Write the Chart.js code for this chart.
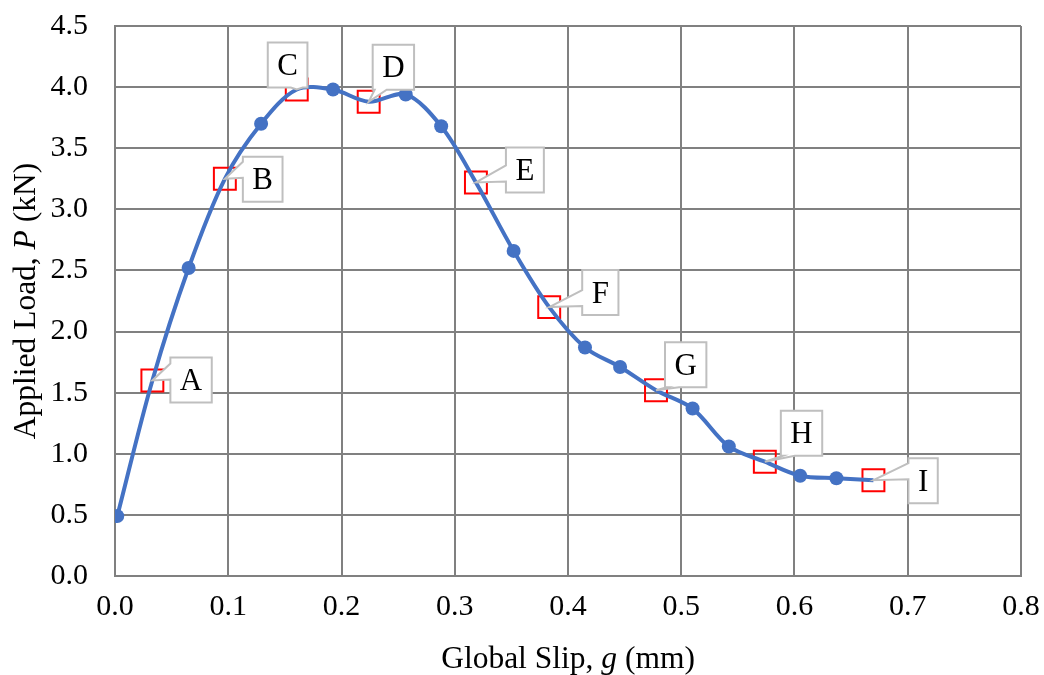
<!DOCTYPE html>
<html>
<head>
<meta charset="utf-8">
<script src="https://cdn.jsdelivr.net/npm/chart.js@4.4.1/dist/chart.umd.min.js"></script>
<style>
  body { margin: 0; background: #fff; }
  #wrap { width: 1044px; height: 675px; }
</style>
</head>
<body>
<div id="wrap"><canvas id="slipChart" width="1044" height="675"></canvas></div>
<script>
'use strict';

// load-slip curve (mm, kN)
const slip = [0.002, 0.033, 0.065, 0.097, 0.129, 0.1605, 0.1925, 0.224, 0.2567, 0.288, 0.3187,
    0.352, 0.3834, 0.415, 0.446, 0.4777, 0.510, 0.542, 0.5738, 0.605, 0.637, 0.6697];
const load = [0.49, 1.60, 2.52, 3.25, 3.70, 3.98, 3.98, 3.88, 3.94, 3.68, 3.22,
    2.66, 2.20, 1.87, 1.71, 1.52, 1.37, 1.06, 0.935, 0.82, 0.80, 0.784];

// marked stages on the curve
const stageNames = ['A', 'B', 'C', 'D', 'E', 'F', 'G', 'H', 'I'];
const stageIndex = [1, 3, 5, 7, 10, 12, 15, 18, 21];

// tick labels
const xTicks = [0, 0.1, 0.2, 0.3, 0.4, 0.5, 0.6, 0.7, 0.8];
const yTicks = [0, 0.5, 1, 1.5, 2, 2.5, 3, 3.5, 4, 4.5];

// callout box offsets from the marked point (px)
const calloutOffset = [[18, -23], [18, -22], [-29, -47], [4, -57], [30, -35],
    [33, -37], [9, -48], [16, -51], [35, -22]];

const serif = 'Liberation Serif, Times New Roman, serif';
const gridColor = '#808080';

const curvePoints = slip.map((x, i) => ({x: x, y: load[i]}));
const markerRadius = slip.map((x, i) => stageIndex.includes(i) ? 0 : 7);
const stagePoints = stageIndex.map(i => ({x: slip[i], y: load[i]}));

// callouts + axis titles
const calloutPlugin = {
    id: 'callouts',
    afterDatasetsDraw(chart) {
        const ctx = chart.ctx;
        const xs = chart.scales.x, ys = chart.scales.y;
        ctx.save();
        ctx.font = '31px ' + serif;
        stageNames.forEach((name, k) => {
            const tx = xs.getPixelForValue(stagePoints[k].x);
            const ty = ys.getPixelForValue(stagePoints[k].y);
            const w = ctx.measureText(name).width + 19;
            const h = 45;
            const left = tx + calloutOffset[k][0];
            const top = ty + calloutOffset[k][1];
            const right = left + w, bottom = top + h;

            ctx.beginPath();
            ctx.moveTo(left, top);
            ctx.lineTo(right, top);
            ctx.lineTo(right, bottom);
            if (ty > bottom) {
                // wedge from bottom edge
                const c = Math.min(Math.max(tx, left + 8), right - 8);
                ctx.lineTo(c + 6, bottom);
                ctx.lineTo(tx, ty);
                ctx.lineTo(c - 6, bottom);
                ctx.lineTo(left, bottom);
            } else {
                // wedge from left edge
                const c = Math.min(Math.max(ty - 9, top + 9), bottom - 9);
                ctx.lineTo(left, bottom);
                ctx.lineTo(left, c + 8);
                ctx.lineTo(tx, ty);
                ctx.lineTo(left, c - 8);
            }
            ctx.closePath();
            ctx.fillStyle = '#ffffff';
            ctx.fill();
            ctx.strokeStyle = '#bfbfbf';
            ctx.lineWidth = 2;
            ctx.stroke();

            ctx.fillStyle = '#000';
            ctx.textAlign = 'center';
            ctx.textBaseline = 'middle';
            ctx.fillText(name, left + w / 2, top + h / 2 + 2);
        });
        ctx.restore();
    },
    afterDraw(chart) {
        const ctx = chart.ctx;
        const area = chart.chartArea;
        // draw text pieces, one italic
        function mixed(parts, cx, cy) {
            let total = 0;
            parts.forEach(p => {
                ctx.font = (p[1] ? 'italic ' : '') + '31.5px ' + serif;
                total += ctx.measureText(p[0]).width;
            });
            let x = cx - total / 2;
            parts.forEach(p => {
                ctx.font = (p[1] ? 'italic ' : '') + '31.5px ' + serif;
                ctx.fillText(p[0], x, cy);
                x += ctx.measureText(p[0]).width;
            });
        }
        ctx.save();
        ctx.fillStyle = '#000';
        ctx.textAlign = 'left';
        ctx.textBaseline = 'alphabetic';
        mixed([['Global Slip, ', false], ['g', true], [' (mm)', false]], (area.left + area.right) / 2, 668);
        ctx.translate(35, (area.top + area.bottom) / 2);
        ctx.rotate(-Math.PI / 2);
        mixed([['Applied Load, ', false], ['P', true], [' (kN)', false]], 0, 0);
        ctx.restore();
    }
};

new Chart(document.getElementById('slipChart'), {
    type: 'scatter',
    data: {
        datasets: [{
            data: curvePoints,
            showLine: true,
            borderColor: '#4472C4',
            borderWidth: 4,
            tension: 0.33,
            pointRadius: markerRadius,
            pointBackgroundColor: '#4472C4',
            pointBorderWidth: 0,
            order: 0
        }, {
            data: stagePoints,
            showLine: false,
            pointStyle: 'rect',
            pointRadius: 15.5,
            pointBorderColor: '#ff0000',
            pointBorderWidth: 2,
            pointBackgroundColor: 'rgba(0,0,0,0)',
            order: 1
        }]
    },
    options: {
        responsive: false,
        animation: false,
        layout: {padding: {top: 26, right: 23, left: 0, bottom: 0}},
        plugins: {legend: {display: false}, tooltip: {enabled: false}},
        scales: {
            x: {
                type: 'linear', min: 0, max: 0.8,
                afterBuildTicks: s => { s.ticks = xTicks.map(v => ({value: v})); },
                afterFit: s => { s.height = 99; s.paddingLeft = 0; s.paddingRight = 0; },
                ticks: {
                    callback: v => v.toFixed(1),
                    font: {family: serif, size: 30}, color: '#000', padding: 13
                },
                grid: {color: gridColor, lineWidth: 2, drawTicks: false},
                border: {color: gridColor, width: 2}
            },
            y: {
                type: 'linear', min: 0, max: 4.5,
                afterBuildTicks: s => { s.ticks = yTicks.map(v => ({value: v})); },
                afterFit: s => { s.width = 115; s.paddingTop = 0; s.paddingBottom = 0; },
                ticks: {
                    callback: v => v.toFixed(1),
                    font: {family: serif, size: 30}, color: '#000', padding: 27
                },
                grid: {color: gridColor, lineWidth: 2, drawTicks: false},
                border: {color: gridColor, width: 2}
            }
        }
    },
    plugins: [calloutPlugin]
});
</script>
</body>
</html>
